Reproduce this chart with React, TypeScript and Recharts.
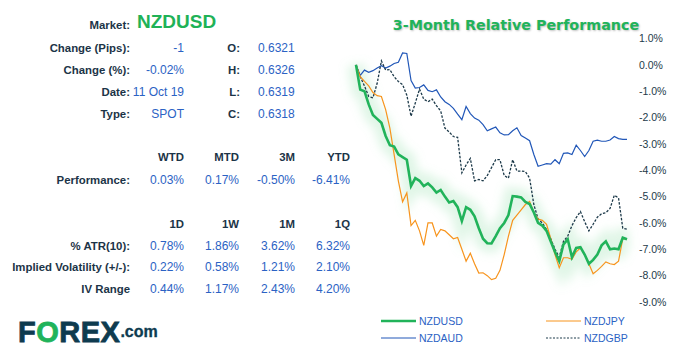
import React from 'react';
import { LineChart, Line, XAxis, YAxis } from 'recharts';

const dates = [
  '15 Jul','16 Jul','17 Jul','18 Jul','19 Jul','22 Jul','23 Jul','24 Jul','25 Jul','26 Jul',
  '29 Jul','30 Jul','31 Jul','1 Aug','2 Aug','5 Aug','6 Aug','7 Aug','8 Aug','9 Aug',
  '12 Aug','13 Aug','14 Aug','15 Aug','16 Aug','19 Aug','20 Aug','21 Aug','22 Aug','23 Aug',
  '26 Aug','27 Aug','28 Aug','29 Aug','30 Aug','2 Sep','3 Sep','4 Sep','5 Sep','6 Sep',
  '9 Sep','10 Sep','11 Sep','12 Sep','13 Sep','16 Sep','17 Sep','18 Sep','19 Sep','20 Sep',
  '23 Sep','24 Sep','25 Sep','26 Sep','27 Sep','30 Sep','1 Oct','2 Oct','3 Oct','4 Oct',
  '7 Oct','8 Oct','9 Oct','10 Oct','11 Oct',
];

const nzdusd = [
  0, -0.94, -1.0, -1.5, -1.9, -2.05, -2.2, -2.7, -3.05, -3.1,
  -3.4, -3.5, -3.6, -4.6, -4.3, -4.4, -4.6, -4.5, -4.65, -4.85,
  -4.75, -5.0, -5.22, -5.17, -5.4, -5.93, -5.4, -5.5, -5.75, -6.2,
  -6.6, -6.77, -6.78, -6.5, -6.2, -6.0, -5.7, -4.98, -5.0, -5.03,
  -5.2, -5.28, -5.6, -6.0, -6.1, -6.3, -6.7, -7.1, -7.45, -6.81,
  -6.62, -7.3, -6.95, -6.92, -7.2, -7.55, -7.4, -7.2, -6.85, -6.7,
  -7.0, -6.97, -7.0, -6.56, -6.62,
];

const nzdjpy = [
  0, -0.45, -0.63, -0.8, -1.05, -1.17, -1.2, -1.7, -2.4, -3.4,
  -4.4, -5.2, -4.86, -6.1, -5.9, -6.3, -6.85, -6.0, -6.0, -6.5,
  -6.25, -6.3, -6.45, -6.6, -6.55, -7.0, -7.45, -7.15, -7.55, -7.9,
  -7.89, -8.0, -8.15, -8.1, -7.8, -7.2, -6.5, -5.9, -5.7, -5.5,
  -5.3, -5.18, -5.6, -5.85, -5.9, -6.05, -6.6, -7.2, -7.7, -7.32,
  -7.32, -7.38, -7.1, -6.95, -7.2, -7.55, -7.93, -7.8, -7.65, -7.48,
  -7.55, -7.58, -7.45, -6.6, -6.62,
];

const nzdaud = [
  0, -0.4, -0.2, -0.28, -0.22, -0.12, -0.03, -0.12, -0.05, 0.05,
  0.1, 0.45, 0.43, -0.6, -0.88, -0.86, -0.76, -0.97, -1.02, -0.95,
  -1.22, -1.4, -1.5, -1.65, -1.87, -2.08, -1.58, -1.85, -2.02, -2.1,
  -2.27, -2.5, -2.43, -2.36, -2.58, -2.66, -2.65, -2.5, -2.39, -2.68,
  -2.78, -2.88, -3.4, -3.85, -3.8, -3.75, -3.77, -3.6, -3.75, -3.36,
  -3.34, -3.4, -3.05, -3.25, -3.48, -3.25, -2.9, -2.86, -2.9, -2.9,
  -2.85, -2.72, -2.8, -2.83, -2.83,
];

const nzdgbp = [
  0, -0.45, -0.8, -1.2, -1.25, -0.7, 0.15, -0.2, -0.18, -0.45,
  -0.63, -0.75, -1.15, -1.95, -1.45, -0.92, -1.3, -1.4, -1.3, -1.55,
  -1.75, -2.4, -2.55, -2.72, -2.75, -4.1, -3.8, -3.55, -4.4, -4.35,
  -4.4, -4.2, -3.9, -3.6, -3.6, -4.2, -4.3, -3.6, -4.03, -4.03,
  -4.05, -4.3, -5.3, -5.85, -6.0, -6.25, -6.6, -7.0, -7.3, -6.7,
  -6.5, -6.1, -5.8, -5.57, -5.95, -6.3, -6.05, -5.78, -5.65, -5.61,
  -5.45, -4.95, -5.05, -6.2, -6.24,
];

const yTicks = [1, 0, -1, -2, -3, -4, -5, -6, -7, -8, -9];

const infoLabels = ['Change (Pips):', 'Change (%):', 'Date:', 'Type:'];
const infoValues = ['-1', '-0.02%', '11 Oct 19', 'SPOT'];
const ohlcLabels = ['O:', 'H:', 'L:', 'C:'];
const ohlcValues = ['0.6321', '0.6326', '0.6319', '0.6318'];
const perfHeaders = ['WTD', 'MTD', '3M', 'YTD'];
const perfValues = ['0.03%', '0.17%', '-0.50%', '-6.41%'];
const volHeaders = ['1D', '1W', '1M', '1Q'];
const volLabels = ['% ATR(10):', 'Implied Volatility (+/-):', 'IV Range'];
const atrValues = ['0.78%', '1.86%', '3.62%', '6.32%'];
const ivValues = ['0.22%', '0.58%', '1.21%', '2.10%'];
const ivRangeValues = ['0.44%', '1.17%', '2.43%', '4.20%'];

const data = dates.map((d, i) => ({
  date: d,
  NZDUSD: nzdusd[i],
  NZDJPY: nzdjpy[i],
  NZDAUD: nzdaud[i],
  NZDGBP: nzdgbp[i],
}));

const DARK = '#1c3447';
const BLUE = '#2b62c4';
const GREEN = '#1fb257';
const FONT = '"Liberation Sans", Arial, sans-serif';

const legendItems = [
  { name: 'NZDUSD', color: '#21b35a', width: 2.6, dash: '', x: 381, y: 321 },
  { name: 'NZDJPY', color: '#f7941d', width: 1, dash: '', x: 546, y: 321 },
  { name: 'NZDAUD', color: '#2157b8', width: 1, dash: '', x: 381, y: 338 },
  { name: 'NZDGBP', color: '#1d3a4a', width: 1, dash: '2 1.5', x: 546, y: 338 },
];

const colRight = [184, 239, 295, 350];

function RText({ text, right, cy, color, bold, size = 12 }: any) {
  return (
    <div
      style={{
        position: 'absolute',
        left: right - 250,
        width: 250,
        top: cy - 8,
        height: 16,
        lineHeight: '16px',
        textAlign: 'right',
        fontFamily: FONT,
        fontSize: size,
        fontWeight: bold ? 700 : 400,
        color,
        whiteSpace: 'nowrap',
      }}
    >
      {text}
    </div>
  );
}

function LText({ text, left, cy, color, bold, size = 12 }: any) {
  return (
    <div
      style={{
        position: 'absolute',
        left,
        top: cy - 8,
        height: 16,
        lineHeight: '16px',
        fontFamily: FONT,
        fontSize: size,
        fontWeight: bold ? 700 : 400,
        color,
        whiteSpace: 'nowrap',
      }}
    >
      {text}
    </div>
  );
}

const LB = 11.4;

export default function App() {
  const infoY = [48, 70, 92, 114];
  const volY = [246, 267, 289];
  const volRows = [atrValues, ivValues, ivRangeValues];
  return (
    <div style={{ position: 'absolute', left: 0, top: 0, width: 677, height: 356, background: '#fff', overflow: 'hidden' }}>
      {/* Left info panel */}
      <RText text="Market:" right={130} cy={25} color={DARK} bold size={LB} />
      <LText text="NZDUSD" left={137} cy={22} color={GREEN} bold size={19} />
      {infoLabels.map((l, i) => (
        <React.Fragment key={l}>
          <RText text={l} right={130} cy={infoY[i]} color={DARK} bold size={LB} />
          <RText text={infoValues[i]} right={184} cy={infoY[i]} color={BLUE} />
          <RText text={ohlcLabels[i]} right={240} cy={infoY[i]} color={DARK} bold size={LB} />
          <LText text={ohlcValues[i]} left={258} cy={infoY[i]} color={BLUE} />
        </React.Fragment>
      ))}
      {perfHeaders.map((h, i) => (
        <React.Fragment key={h}>
          <RText text={h} right={colRight[i]} cy={157} color={DARK} bold size={LB} />
          <RText text={perfValues[i]} right={colRight[i]} cy={180} color={BLUE} />
        </React.Fragment>
      ))}
      <RText text="Performance:" right={130} cy={180} color={DARK} bold size={LB} />
      {volHeaders.map((h, i) => (
        <RText key={h} text={h} right={colRight[i]} cy={224} color={DARK} bold size={LB} />
      ))}
      {volLabels.map((l, r) => (
        <React.Fragment key={l}>
          <RText text={l} right={130} cy={volY[r]} color={DARK} bold size={LB} />
          {volRows[r].map((v, i) => (
            <RText key={i} text={v} right={colRight[i]} cy={volY[r]} color={BLUE} />
          ))}
        </React.Fragment>
      ))}

      {/* Logo */}
      <div
        style={{
          position: 'absolute',
          left: 18,
          top: 318,
          height: 29,
          lineHeight: '29px',
          fontFamily: FONT,
          fontWeight: 700,
          fontSize: 29,
          letterSpacing: 0.5,
          color: '#0e3b4f',
          whiteSpace: 'nowrap',
          WebkitTextStroke: '0.8px #0e3b4f',
        }}
      >
        F<span style={{ color: '#20b35a', WebkitTextStroke: '0.8px #20b35a' }}>O</span>REX
        <span style={{ fontSize: 16, letterSpacing: 0, position: 'relative', top: -5, WebkitTextStroke: '0.3px #0e3b4f' }}>.com</span>
      </div>

      {/* Title */}
      <div
        style={{
          position: 'absolute',
          left: 366,
          width: 300,
          top: 15,
          height: 20,
          lineHeight: '20px',
          textAlign: 'center',
          fontFamily: '"DejaVu Sans", Verdana, sans-serif',
          fontWeight: 700,
          fontSize: 14.3,
          color: '#21b35a',
          textShadow: '1px 1px 2px rgba(0,0,0,0.25)',
          whiteSpace: 'nowrap',
        }}
      >
        3-Month Relative Performance
      </div>

      {/* Chart */}
      <div style={{ position: 'absolute', left: 0, top: 0 }}>
        <LineChart width={677} height={356} data={data} margin={{ top: 38.5, right: 10, bottom: 54, left: 356 }}>
          <defs>
            <filter id="glow" x="-20%" y="-20%" width="140%" height="140%">
              <feGaussianBlur stdDeviation="5" />
            </filter>
          </defs>
          <XAxis dataKey="date" hide />
          <YAxis
            orientation="right"
            domain={[-9, 1]}
            ticks={yTicks}
            axisLine={false}
            tickLine={false}
            tickMargin={6}
            width={40}
            interval={0}
            tick={{ fill: '#1d3a4a', fontSize: 10.5, fontFamily: FONT }}
            tickFormatter={(v: number) => v.toFixed(1) + '%'}
          />
          <Line
            dataKey="NZDUSD"
            stroke="#8fe0a8"
            strokeWidth={18}
            strokeOpacity={0.28}
            filter="url(#glow)"
            dot={false}
            activeDot={false}
            legendType="none"
            isAnimationActive={false}
          />
          <Line dataKey="NZDAUD" stroke="#2157b8" strokeWidth={1.2} dot={false} activeDot={false} isAnimationActive={false} />
          <Line dataKey="NZDGBP" stroke="#1d3a4a" strokeWidth={1.3} strokeDasharray="2.5 1.5" dot={false} activeDot={false} isAnimationActive={false} />
          <Line dataKey="NZDJPY" stroke="#f7941d" strokeWidth={1.2} dot={false} activeDot={false} isAnimationActive={false} />
          <Line dataKey="NZDUSD" stroke="#21b35a" strokeWidth={2.6} dot={false} activeDot={false} isAnimationActive={false} />
        </LineChart>
      </div>

      {/* Legend */}
      {legendItems.map((it) => (
        <React.Fragment key={it.name}>
          <svg style={{ position: 'absolute', left: it.x, top: it.y - 3 }} width={36} height={6}>
            <line x1={0} y1={3} x2={35} y2={3} stroke={it.color} strokeWidth={it.width} strokeDasharray={it.dash || undefined} />
          </svg>
          <LText text={it.name} left={it.x + 38} cy={it.y} color={BLUE} size={10.5} />
        </React.Fragment>
      ))}
    </div>
  );
}
